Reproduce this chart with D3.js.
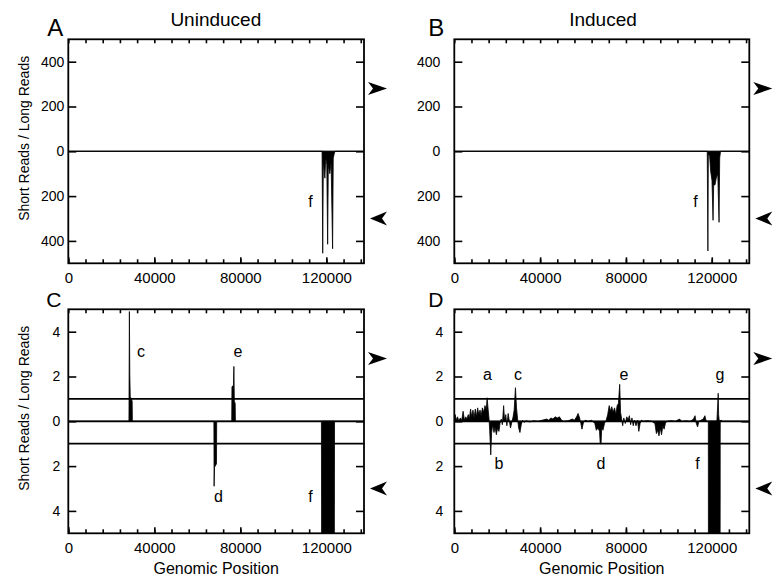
<!DOCTYPE html>
<html>
<head>
<meta charset="utf-8">
<script src="https://cdn.jsdelivr.net/npm/d3@7"></script>
<style>
  body { margin: 0; background: #fff; }
  text { font-family: Arial, "Liberation Sans", Helvetica, sans-serif; fill: #000; }
</style>
</head>
<body>
<script>
// genome length and tick values
var genomeLength = 137500;
var xMajorTicks = [0, 40000, 80000, 120000];
var xMinorTicks = d3.range(0, 137000, 8000);
var yTicksReads = [-400, -200, 0, 200, 400];
var yTicksRatio = [-4, -2, 0, 2, 4];
var ratioLines = [-1, 0, 1];

// [position, signed value] ; negative = plotted below zero
var profileA = [[0, 0], [118000, 0], [118300, -455], [118600, -40], [119300, -120], [119700, -30],
  [120200, -60], [120600, -415], [120900, -60], [121600, -100], [122200, -50], [122900, -435],
  [123200, -30], [123700, -10], [124000, 0], [137500, 0]];

var profileB = [[0, 0], [117900, 0], [118200, -445], [118400, -15], [119000, -20], [119500, -90],
  [120100, -130], [120600, -308], [120900, -150], [121500, -150], [122100, -120], [122800, -100],
  [123400, -317], [123700, -30], [124100, 0], [137500, 0]];

var profileC = [[0, 0], [28200, 0], [28400, 4.9], [28600, 2.1], [28800, 1.1], [29300, 1.0], [29700, 0.9],
  [29800, 0], [67700, 0], [67800, -2.9], [68000, -2.05], [68900, -1.9], [69000, 0],
  [76000, 0], [76100, 1.55], [76800, 1.6], [77000, 2.45], [77200, 0.9], [77600, 0.8], [77700, 0],
  [137500, 0]];
var blockC = [[117700, 0], [117800, -6], [123700, -6], [123800, 0]];

var profileD = [[0, 0],
  [400, 0.3], [900, 0.05], [1500, 0.2], [2100, 0.02], [2800, 0.15], [3500, 0.05], [4100, 0.45],
  [4700, 0.05], [5300, 0.2], [5900, 0.1], [6500, 0.3], [7000, 0.1], [7600, 0.55], [8100, 0.2],
  [8700, 0.5], [9200, 0.15], [9800, 0.55], [10300, 0.2], [10900, 0.6], [11400, 0.3], [12000, 0.5],
  [12500, 0.25], [13100, 0.6], [13700, 0.4], [14300, 0.7], [14900, 0.5], [15300, 1.05], [15800, 0.5],
  [16200, 0.1], [16500, -0.4], [17000, -1.5], [17400, -0.5], [17900, -0.15], [18500, -0.5],
  [19000, -0.25], [19600, -0.6], [20200, -0.3], [20800, -0.45], [21300, -0.1], [21900, 0.1],
  [22400, -0.15], [23000, 0.7], [23400, 0.05], [24000, 0.3], [24500, -0.2], [25100, 0.35],
  [25600, 0.05], [26200, -0.3], [26800, -0.05], [27400, 0.2], [27900, 0.5], [28500, 1.5],
  [29000, 0.6], [29500, 0.1], [30000, -0.3], [30600, -0.5], [31200, -0.15], [31800, 0.05],
  [32500, -0.05], [33500, 0.03], [35000, -0.03], [37000, 0.02], [39000, 0], [41000, 0.05],
  [43000, 0.1], [44000, 0.05], [45000, 0.15], [46000, 0.1], [47000, 0.2], [48000, 0.15],
  [49000, 0.2], [50000, 0.05], [51000, 0], [53000, 0.02], [55000, 0.1], [56000, 0.05],
  [57000, 0.2], [57700, 0.35], [58400, 0.15], [59000, -0.1], [59500, -0.35], [60200, -0.05],
  [61000, 0.05], [62500, 0], [64000, 0.05], [65500, -0.1], [66200, -0.4], [67000, -0.3],
  [67700, -0.45], [68000, -1.0], [68400, -1.0], [68700, -0.3], [69300, -0.4], [70000, -0.1],
  [70800, 0.05], [71500, 0.3], [72200, 0.7], [72800, 0.45], [73400, 0.65], [74000, 0.4],
  [74700, 0.6], [75300, 0.3], [75900, 0.7], [76500, 0.8], [77100, 1.65], [77500, 0.4],
  [78000, 0.1], [78500, -0.2], [79000, 0.15], [79700, -0.1], [80400, 0.2], [81000, 0.05],
  [81600, 0.25], [82200, -0.15], [82800, 0.15], [83400, -0.2], [84000, 0.05], [84700, -0.2],
  [85400, 0.05], [86000, -0.45], [86600, -0.1], [87200, 0.05], [88000, 0], [90000, 0.03],
  [92000, 0], [93500, -0.1], [94200, -0.55], [94800, -0.4], [95400, -0.65], [96000, -0.3],
  [96600, -0.6], [97200, -0.2], [97800, -0.35], [98400, -0.1], [99000, 0], [101000, 0.03],
  [103000, 0], [105000, 0.1], [106000, 0], [108000, 0.02], [110000, 0], [111500, 0.1],
  [112200, 0.25], [112800, -0.1], [113400, -0.25], [114000, 0], [115000, 0.05], [116000, 0.1],
  [116800, 0.25], [117300, 0.05], [117800, 0], [122400, 0], [122700, 0.6], [123000, 1.25],
  [123200, 0.3], [123500, 0], [124400, 0.05], [124800, 0], [137500, 0]];
var blockD = [[118400, 0], [118450, -6], [123900, -6], [123950, 0]];

// arrow marks (value on each panel's axis)
var arrowsReads = [280, -300];
var arrowsRatio = [2.8, -3.0];

// peak letters [letter, position, value]
var lettersA = [["f", 112600, -247]];
var lettersB = [["f", 112400, -247]];
var lettersC = [["c", 33800, 2.87], ["e", 78900, 2.87], ["d", 69800, -3.6], ["f", 112600, -3.6]];
var lettersD = [["a", 15500, 1.84], ["c", 29700, 1.84], ["e", 79100, 1.84], ["g", 123800, 1.84],
  ["b", 20800, -2.13], ["d", 68400, -2.13], ["f", 113400, -2.13]];

var svg = d3.select("body").append("svg")
  .attr("width", 780)
  .attr("height", 579);

function panel(opt) {
  var w = opt.w, h = opt.h;
  var g = svg.append("g").attr("transform", "translate(" + opt.left + "," + opt.top + ")");

  var x = d3.scaleLinear().domain([0, genomeLength]).range([0, w]);
  var y = d3.scaleLinear().domain([-opt.yMax, opt.yMax]).range([h, 0]);

  g.append("clipPath").attr("id", "clip" + opt.id)
    .append("rect").attr("width", w).attr("height", h);

  var plot = g.append("g").attr("clip-path", "url(#clip" + opt.id + ")");

  var area = d3.area()
    .x(function(d) { return x(d[0]); })
    .y0(y(0))
    .y1(function(d) { return y(d[1]); });

  opt.series.forEach(function(s) {
    plot.append("path")
      .attr("d", area(s))
      .style("fill", "#000")
      .style("stroke", "#000")
      .style("stroke-width", 0.8)
      .style("stroke-linejoin", "miter");
  });

  // reference lines
  opt.lines.forEach(function(v) {
    g.append("line")
      .attr("x1", 0).attr("x2", w)
      .attr("y1", y(v)).attr("y2", y(v))
      .style("stroke", "#000")
      .style("stroke-width", opt.lineWidth);
  });

  // axes, ticks pointing inward
  var bottomMinor = g.append("g").attr("transform", "translate(0," + h + ")")
    .call(d3.axisBottom(x).tickValues(xMinorTicks).tickSize(-4).tickFormat(""));
  var bottomMajor = g.append("g").attr("transform", "translate(0," + h + ")")
    .call(d3.axisBottom(x).tickValues(xMajorTicks).tickSize(-6).tickPadding(9).tickFormat(d3.format("d")));
  var top = g.append("g")
    .call(d3.axisTop(x).tickValues(xMinorTicks).tickSize(-4).tickFormat(""));
  var left = g.append("g")
    .call(d3.axisLeft(y).tickValues(opt.yTicks).tickSize(-8).tickPadding(opt.yPad)
      .tickFormat(function(d) { return Math.abs(d); }));
  var right = g.append("g").attr("transform", "translate(" + w + ",0)")
    .call(d3.axisRight(y).tickValues(opt.yTicks).tickSize(-8).tickFormat(""));

  [bottomMinor, bottomMajor, top, left, right].forEach(function(a) {
    a.select(".domain").remove();
    a.selectAll(".tick line").style("stroke", "#000").style("stroke-width", 1.6);
  });
  bottomMajor.selectAll("text").style("font-size", "15px").style("font-family", "Arial, 'Liberation Sans', sans-serif");
  left.selectAll("text").style("font-size", "14px").style("font-family", "Arial, 'Liberation Sans', sans-serif");

  // frame
  g.append("rect")
    .attr("width", w).attr("height", h)
    .style("fill", "none")
    .style("stroke", "#000")
    .style("stroke-width", 1.8);

  // arrowheads on the right
  opt.arrows.forEach(function(v) {
    var cy = y(v);
    var p;
    if (v > 0) {
      var tip = w + 23;
      p = [[tip, cy], [tip - 19, cy - 6.5], [tip - 14, cy], [tip - 19, cy + 6.5]];
    } else {
      var tip2 = w + 6;
      p = [[tip2, cy], [tip2 + 17, cy - 7], [tip2 + 12, cy], [tip2 + 17, cy + 7]];
    }
    g.append("path")
      .attr("d", "M" + p.join("L") + "Z")
      .style("fill", "#000");
  });

  // peak letters
  opt.letters.forEach(function(l) {
    g.append("text")
      .attr("x", x(l[1]))
      .attr("y", y(l[2]))
      .attr("text-anchor", "middle")
      .style("font-size", "16px")
      .text(l[0]);
  });

  // panel letter
  g.append("text")
    .attr("x", opt.letterX)
    .attr("y", opt.letterY)
    .style("font-size", opt.letterSize + "px")
    .text(opt.id);

  if (opt.yTitle) {
    g.append("text")
      .attr("transform", "translate(" + opt.yTitleX + "," + opt.yTitleY + ") rotate(-90)")
      .attr("text-anchor", "middle")
      .style("font-size", "14px")
      .text("Short Reads / Long Reads");
  }
  if (opt.xTitle) {
    g.append("text")
      .attr("x", w / 2)
      .attr("y", h + 41)
      .attr("text-anchor", "middle")
      .style("font-size", "16px")
      .text("Genomic Position");
  }
}

panel({ id: "A", left: 68.3, top: 39.3, w: 295.7, h: 224, yMax: 500, yTicks: yTicksReads, yPad: 4,
  series: [profileA], lines: [0], lineWidth: 1.1, arrows: arrowsReads, letters: lettersA,
  letterX: -21, letterY: -3, letterSize: 24, yTitle: true, yTitleX: -39, yTitleY: 99 });
panel({ id: "B", left: 454.3, top: 39.3, w: 295, h: 224, yMax: 500, yTicks: yTicksReads, yPad: 14,
  series: [profileB], lines: [0], lineWidth: 1.1, arrows: arrowsReads, letters: lettersB,
  letterX: -26, letterY: -3, letterSize: 24 });
panel({ id: "C", left: 68.3, top: 309.3, w: 295.7, h: 224, yMax: 5, yTicks: yTicksRatio, yPad: 8,
  series: [profileC, blockC], lines: ratioLines, lineWidth: 1.8, arrows: arrowsRatio, letters: lettersC,
  letterX: -22, letterY: -2, letterSize: 21, yTitle: true, yTitleX: -39, yTitleY: 99, xTitle: true });
panel({ id: "D", left: 454.3, top: 309.3, w: 295, h: 224, yMax: 5, yTicks: yTicksRatio, yPad: 11,
  series: [profileD, blockD], lines: ratioLines, lineWidth: 1.8, arrows: arrowsRatio, letters: lettersD,
  letterX: -26, letterY: -2, letterSize: 21, xTitle: true });

// column titles
svg.append("text").attr("x", 215.8).attr("y", 26).attr("text-anchor", "middle")
  .style("font-size", "19px").text("Uninduced");
svg.append("text").attr("x", 603).attr("y", 26).attr("text-anchor", "middle")
  .style("font-size", "19px").text("Induced");
</script>
</body>
</html>
